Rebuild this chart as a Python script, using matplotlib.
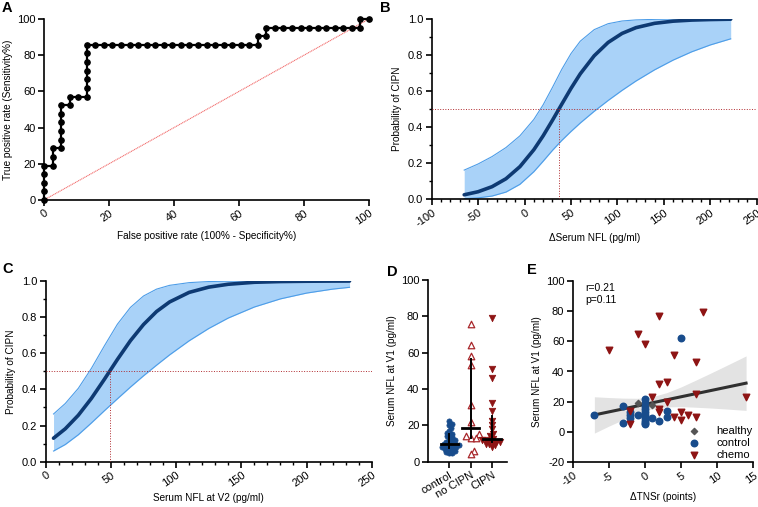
import numpy as np
import matplotlib
matplotlib.use("Agg")
import matplotlib.pyplot as plt
from matplotlib.ticker import MultipleLocator, FormatStrFormatter

plt.rcParams['font.family'] = ['Liberation Sans', 'DejaVu Sans']
plt.rcParams['axes.unicode_minus'] = False

# ---------------- Panel A: ROC ----------------
roc_fpr = [0, 0, 0, 0, 0,
           2.63, 2.63, 2.63,
           5.26, 5.26, 5.26, 5.26, 5.26, 5.26,
           7.89, 7.89,
           10.53,
           13.16, 13.16, 13.16, 13.16, 13.16, 13.16, 13.16,
           15.79, 18.42, 21.05, 23.68, 26.32, 28.95, 31.58, 34.21, 36.84, 39.47,
           42.11, 44.74, 47.37, 50.00, 52.63, 55.26, 57.89, 60.53, 63.16, 65.79,
           65.79, 68.42, 68.42,
           71.05, 73.68, 76.32, 78.95, 81.58, 84.21, 86.84, 89.47, 92.11, 94.74, 97.37,
           97.37, 100]
roc_tpr = [0, 4.76, 9.52, 14.29, 19.05,
           19.05, 23.81, 28.57,
           28.57, 33.33, 38.10, 42.86, 47.62, 52.38,
           52.38, 57.14,
           57.14,
           57.14, 61.90, 66.67, 71.43, 76.19, 80.95, 85.71,
           85.71, 85.71, 85.71, 85.71, 85.71, 85.71, 85.71, 85.71, 85.71, 85.71,
           85.71, 85.71, 85.71, 85.71, 85.71, 85.71, 85.71, 85.71, 85.71, 85.71,
           90.48, 90.48, 95.24,
           95.24, 95.24, 95.24, 95.24, 95.24, 95.24, 95.24, 95.24, 95.24, 95.24, 95.24,
           100, 100]
roc_ref = [0, 100]

# ---------------- Panel B: logistic vs delta NFL ----------------
b_x = [-65, -50, -35, -20, -5, 10, 20, 30, 40, 50, 60, 75, 90, 105, 120, 140, 160, 180, 200, 222]
b_mid = [0.025, 0.042, 0.070, 0.114, 0.181, 0.275, 0.352, 0.438, 0.527, 0.615, 0.696, 0.796,
         0.870, 0.920, 0.952, 0.976, 0.988, 0.994, 0.997, 0.999]
b_up = [0.162, 0.196, 0.237, 0.287, 0.352, 0.443, 0.524, 0.620, 0.720, 0.808, 0.877, 0.941,
        0.974, 0.989, 0.995, 0.998, 0.9995, 0.9998, 1.0, 1.0]
b_lo = [0.0034, 0.0079, 0.018, 0.040, 0.083, 0.153, 0.211, 0.271, 0.326, 0.376, 0.423, 0.488,
        0.548, 0.604, 0.656, 0.718, 0.772, 0.818, 0.856, 0.890]
b_cut = 37

# ---------------- Panel C: logistic vs NFL at V2 ----------------
c_x = [6, 15, 25, 35, 45, 55, 65, 75, 85, 95, 110, 125, 140, 160, 180, 200, 220, 233]
c_mid = [0.130, 0.182, 0.257, 0.350, 0.456, 0.566, 0.670, 0.759, 0.831, 0.884, 0.937, 0.966,
         0.982, 0.993, 0.997, 0.9987, 0.9995, 0.9997]
c_up = [0.264, 0.322, 0.406, 0.516, 0.641, 0.761, 0.854, 0.917, 0.955, 0.976, 0.991, 0.997,
        0.9988, 0.9997, 0.9999, 1.0, 1.0, 1.0]
c_lo = [0.059, 0.095, 0.149, 0.214, 0.282, 0.348, 0.413, 0.475, 0.534, 0.591, 0.669, 0.737,
        0.795, 0.856, 0.901, 0.933, 0.955, 0.965]
c_cut = 49

# ---------------- Panel D: NFL at V1 by group ----------------
d_groups = ['control', 'no CIPN', 'CIPN']
d_control = [22.5, 21, 20, 18.5, 17, 16, 15.5, 15, 14, 13.5, 13, 12, 11.5, 11, 10.5, 10, 10,
             9.5, 9, 9, 8.5, 8, 8, 7.5, 7, 7, 6.5, 6, 5.5, 5, 5]
d_nocipn = [76, 64, 58, 53, 31, 22, 15, 14, 13, 13, 6, 4]
d_cipn = [79, 51, 46, 32.5, 28, 22.5, 20, 18, 15.5, 14, 12.5, 12, 12, 11.5, 11, 11, 10.5, 10,
          9.5, 9, 8]

# ---------------- Panel E: NFL vs delta TNSr ----------------
e_healthy_x = [-1, 1]
e_healthy_y = [19, 18]
e_control_x = [-7, -3, -3, -2, -2, -2, -1, 0, 0, 0, 0, 0, 0, 0, 0, 0, 0, 1, 2, 3, 3, 5]
e_control_y = [11, 17, 6, 13, 11, 9, 11, 22, 19, 17, 15, 13, 11, 9, 7, 6, 5, 9, 7, 14, 10, 62]
e_chemo_x = [-5, -1, 0, 2, 8, 4, 7, 2, 3, 14, 7, 1, 3, 2, 2, -2, -2, 4, 5, 5, 6, 7]
e_chemo_y = [54, 65, 58, 77, 79, 51, 46, 32, 33, 23, 25, 23, 20, 15, 13, 14, 5, 10, 13, 8, 11, 10]
e_fit_x = [-7, 14]
e_fit_y = [11.3, 32.3]
e_band_x = [-7, -5, -3, -1, 1, 3, 5, 7, 9, 11, 14]
e_band_lo = [-0.7, 3.9, 8.2, 12.3, 15.3, 16.6, 16.8, 16.4, 15.9, 15.3, 14.3]
e_band_hi = [23.3, 22.8, 22.4, 22.3, 23.3, 26.0, 29.8, 34.2, 38.7, 43.3, 50.3]
e_stats = "r=0.21\np=0.11"

# ---------------- styling ----------------
W, H = 758, 507
fig = plt.figure(figsize=(W / 100, H / 100), dpi=100)

TICK_FS = 8
LAB_FS = 7.2
RED_DOT = '#b02a2e'
BAND = '#a9d2f8'
BAND_EDGE = '#4d9de8'
NAVY = '#0e3a73'
BLUE = '#184c8c'
DRED = '#8e1414'


def px_axes(l, r, t, b):
    return fig.add_axes([l / W, 1 - b / H, (r - l) / W, (b - t) / H])


def style(ax):
    for s in ['top', 'right']:
        ax.spines[s].set_visible(False)
    for s in ['left', 'bottom']:
        ax.spines[s].set_linewidth(1.2)
    ax.tick_params(which='major', length=4, width=1.2, labelsize=TICK_FS, pad=2)
    ax.tick_params(which='minor', length=2.5, width=1.0)


def rot_x(ax, angle=35):
    for lab in ax.get_xticklabels():
        lab.set_rotation(angle)
        lab.set_ha('right')
        lab.set_va('top')
        lab.set_rotation_mode('anchor')


# ---- A ----
axA = px_axes(44, 369, 19, 200)
style(axA)
axA.plot(roc_ref, roc_ref, color='#f26b6b', lw=0.8, ls=(0, (1, 0.6)), zorder=1)
axA.plot(roc_fpr, roc_tpr, color='black', lw=1.6, marker='o', ms=3.8, zorder=3, clip_on=False)
axA.set_xlim(0, 100)
axA.set_ylim(0, 100)
axA.xaxis.set_major_locator(MultipleLocator(20))
axA.yaxis.set_major_locator(MultipleLocator(20))
axA.set_xlabel('False positive rate (100% - Specificity%)', fontsize=LAB_FS, labelpad=3)
axA.set_ylabel('True positive rate (Sensitivity%)', fontsize=LAB_FS, labelpad=3)
rot_x(axA)

# ---- B ----
axB = px_axes(431.7, 756.7, 19, 199.3)
style(axB)
axB.fill_between(b_x, b_lo, b_up, color=BAND, lw=0, zorder=1)
axB.plot(b_x, b_up, color=BAND_EDGE, lw=0.8, zorder=2)
axB.plot(b_x, b_lo, color=BAND_EDGE, lw=0.8, zorder=2)
axB.plot(b_x, b_mid, color=NAVY, lw=2.6, zorder=3, solid_capstyle='round')
axB.axhline(0.5, color=RED_DOT, lw=0.7, ls=':', zorder=4)
axB.plot([b_cut, b_cut], [0, 0.5], color=RED_DOT, lw=0.7, ls=':', zorder=4)
axB.set_xlim(-100, 250)
axB.set_ylim(0, 1)
axB.xaxis.set_major_locator(MultipleLocator(50))
axB.xaxis.set_minor_locator(MultipleLocator(10))
axB.yaxis.set_major_locator(MultipleLocator(0.2))
axB.yaxis.set_minor_locator(MultipleLocator(0.1))
axB.yaxis.set_major_formatter(FormatStrFormatter('%.1f'))
axB.set_xlabel('ΔSerum NFL (pg/ml)', fontsize=LAB_FS, labelpad=3)
axB.set_ylabel('Probability of CIPN', fontsize=LAB_FS, labelpad=4)
rot_x(axB)

# ---- C ----
axC = px_axes(45.7, 371.7, 281, 461.7)
style(axC)
axC.fill_between(c_x, c_lo, c_up, color=BAND, lw=0, zorder=1)
axC.plot(c_x, c_up, color=BAND_EDGE, lw=0.8, zorder=2)
axC.plot(c_x, c_lo, color=BAND_EDGE, lw=0.8, zorder=2)
axC.plot(c_x, c_mid, color=NAVY, lw=2.6, zorder=3, solid_capstyle='round')
axC.axhline(0.5, color=RED_DOT, lw=0.7, ls=':', zorder=4)
axC.plot([c_cut, c_cut], [0, 0.5], color=RED_DOT, lw=0.7, ls=':', zorder=4)
axC.set_xlim(0, 250)
axC.set_ylim(0, 1)
axC.xaxis.set_major_locator(MultipleLocator(50))
axC.xaxis.set_minor_locator(MultipleLocator(10))
axC.yaxis.set_major_locator(MultipleLocator(0.2))
axC.yaxis.set_minor_locator(MultipleLocator(0.1))
axC.yaxis.set_major_formatter(FormatStrFormatter('%.1f'))
axC.set_xlabel('Serum NFL at V2 (pg/ml)', fontsize=LAB_FS, labelpad=3)
axC.set_ylabel('Probability of CIPN', fontsize=LAB_FS, labelpad=4)
rot_x(axC)

# ---- D ----
axD = px_axes(427.7, 507, 280, 461.7)
style(axD)
axD.set_xlim(-1, 2.7)
axD.set_ylim(0, 100)
y_ppu = 181.7 / 100.0
x_ppu = 79.3 / 3.7


def swarm(vals, center, diam):
    placed = []
    order = np.argsort(vals)
    res = [0.0] * len(vals)
    for i in order:
        yp = vals[i] * y_ppu
        step = 0
        while True:
            if step == 0:
                cand = 0.0
            else:
                cand = ((step + 1) // 2) * (0.5 if step % 2 else -0.5)
            if all((cand - px) ** 2 + (yp - py) ** 2 >= diam ** 2 for px, py in placed):
                break
            step += 1
        placed.append((cand, yp))
        res[i] = center + cand / x_ppu
    return res


def q(vals):
    return np.percentile(vals, [25, 50, 75], method='weibull')


groups = [(d_control, dict(marker='o', s=14, facecolor=BLUE, edgecolor=BLUE, lw=0.5), 3.0),
          (d_nocipn, dict(marker='^', s=22, facecolor='white', edgecolor='#a8262a', lw=0.9), 5.0),
          (d_cipn, dict(marker='v', s=22, facecolor=DRED, edgecolor=DRED, lw=0.5), 3.6)]
for i, (vals, kw, dia) in enumerate(groups):
    xs = swarm(vals, i, dia)
    axD.scatter(xs, vals, zorder=2, clip_on=False, **kw)
    q1, med, q3 = q(vals)
    axD.plot([i, i], [q1, q3], color='black', lw=1.4, zorder=3)
    axD.plot([i - 0.4, i + 0.4], [med, med], color='black', lw=2.0, zorder=3)
axD.set_xticks([0, 1, 2])
axD.set_xticklabels(d_groups)
axD.yaxis.set_major_locator(MultipleLocator(20))
axD.set_ylabel('Serum NFL at V1 (pg/ml)', fontsize=LAB_FS, labelpad=3)
rot_x(axD, 30)

# ---- E ----
axE = px_axes(572.7, 753.3, 280.7, 462.3)
style(axE)
axE.fill_between(e_band_x, e_band_lo, e_band_hi, color='#e3e3e3', lw=0, zorder=1)
axE.plot(e_fit_x, e_fit_y, color='#303030', lw=2.2, zorder=2)
axE.scatter(e_healthy_x, e_healthy_y, marker='D', s=10, color='#555555', zorder=4, label='healthy')
axE.scatter(e_control_x, e_control_y, marker='o', s=22, color=BLUE, zorder=3, label='control')
axE.scatter(e_chemo_x, e_chemo_y, marker='v', s=22, color=DRED, zorder=3, label='chemo')
axE.set_xlim(-10, 15)
axE.set_ylim(-20, 100)
axE.xaxis.set_major_locator(MultipleLocator(5))
axE.yaxis.set_major_locator(MultipleLocator(20))
axE.set_xlabel('ΔTNSr (points)', fontsize=LAB_FS, labelpad=3)
axE.set_ylabel('Serum NFL at V1 (pg/ml)', fontsize=LAB_FS, labelpad=3)
axE.text(0.07, 0.99, e_stats, transform=axE.transAxes, fontsize=7.5, va='top', ha='left',
         linespacing=1.25)
axE.legend(loc='lower right', bbox_to_anchor=(1.04, -0.03), frameon=False, fontsize=8,
           handletextpad=1.0, labelspacing=0.2, borderpad=0.2, markerscale=1.0)
rot_x(axE)

# panel letters
for lab, x, y in [('A', 2, 1), ('B', 380, 1), ('C', 2, 262), ('D', 387, 265), ('E', 527, 263)]:
    fig.text(x / W, 1 - y / H, lab, fontsize=10.5, fontweight='bold', va='top', ha='left')

fig.savefig('out.png', dpi=100)
